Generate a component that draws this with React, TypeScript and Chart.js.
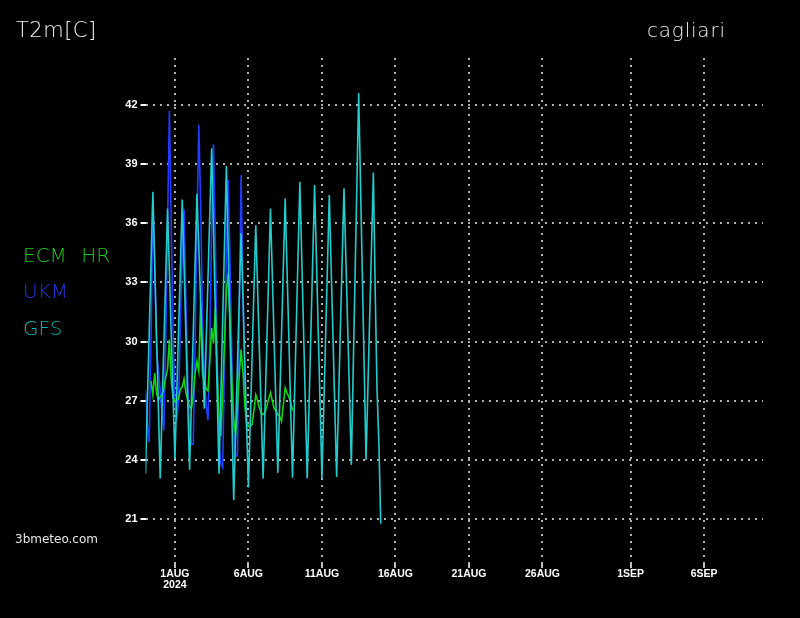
import React, { useEffect, useRef } from 'react';
import { Chart, registerables } from 'chart.js';

Chart.register(...registerables);

// ---- texts ----
const titleText = 'T2m[C]';
const cityText = 'cagliari';
const siteText = '3bmeteo.com';
const seriesNames = ['ECM HR', 'UKM', 'GFS'];
const seriesColors = ['#12d412', '#1f3cff', '#22cccc'];
const legendColors = ['#14cc14', '#2536e0', '#14b4b4'];

// ---- axes (x in hours since 1 Aug 2024 00:00) ----
const xMinHour = -48;
const xMaxHour = 960;
const xTickHours = [0, 120, 240, 360, 480, 600, 744, 864];
const xTickLabels = ['1AUG', '6AUG', '11AUG', '16AUG', '21AUG', '26AUG', '1SEP', '6SEP'];
const yearLabel = '2024';
const yTicks = [21, 24, 27, 30, 33, 36, 39, 42];
const yMin = 18.77;
const yMax = 44.38;

// ---- series (3-hourly) ----
const stepHours = 3;
const gfsStartHour = -48;
const gfsValues = [
  23.3, 26.9, 30.4, 34.0, 37.6, 34.0, 30.3, 26.7,
  23.05, 26.5, 29.9, 33.3, 36.75, 33.6, 30.4, 27.2,
  24.05, 27.3, 30.6, 33.9, 37.2, 33.8, 30.3, 26.9,
  23.5, 27.0, 30.5, 34.0, 37.5, 34.8, 32.0, 29.3,
  26.6, 29.9, 33.2, 36.5, 39.8, 35.7, 31.5, 27.4,
  23.3, 27.2, 31.1, 35.0, 38.9, 34.7, 30.4, 26.2,
  21.95, 25.3, 28.7, 32.1, 35.5, 32.3, 29.0, 25.8,
  22.6, 25.9, 29.2, 32.6, 35.9, 32.7, 29.5, 26.3,
  23.05, 26.5, 29.9, 33.3, 36.75, 33.4, 30.0, 26.7,
  23.34, 26.8, 30.3, 33.8, 37.26, 33.7, 30.2, 26.6,
  23.1, 26.9, 30.6, 34.4, 38.1, 34.3, 30.6, 26.8,
  23.05, 26.8, 30.5, 34.2, 37.94, 34.2, 30.5, 26.8,
  23.05, 26.6, 30.2, 33.8, 37.43, 33.9, 30.3, 26.7,
  23.13, 26.8, 30.5, 34.1, 37.77, 34.3, 30.8, 27.3,
  23.74, 28.5, 33.2, 37.9, 42.6, 38.0, 33.3, 28.7,
  24.0, 27.6, 31.3, 34.9, 38.57, 32.5, 27.5, 24.8,
  20.76,
];

const ukmStartHour = -48;
const ukmValues = [
  27.5, 25.8, 24.9, 30.0, 37.3, 34.0, 29.5, 28.6, 27.5, 26.3,
  25.5, 30.0, 36.0, 41.7, 36.0, 30.5, 27.0, 26.0, 27.0, 31.0,
  34.5, 36.7, 32.0, 28.0, 25.5, 24.8, 24.8, 30.0, 36.0, 41.0,
  37.0, 31.5, 28.0, 26.8, 26.0, 30.0, 36.0, 40.0, 35.0, 29.0,
  24.8, 23.8, 23.6, 29.0, 34.5, 38.2, 34.0, 29.0, 25.5, 24.2,
  24.2, 31.0, 38.45, 33.0, 28.0, 25.5,
];

const ecmStartHour = -39;
const ecmValues = [
  28.0, 27.3, 28.4, 27.4, 27.0, 27.2, 27.3, 27.6, 28.2, 28.6,
  30.1, 28.0, 27.2, 26.95, 27.0, 27.1, 27.6, 27.7, 28.1, 27.4,
  27.0, 26.7, 26.6, 27.3, 28.4, 29.0, 28.5, 32.0, 28.4, 28.0,
  27.6, 27.5, 29.0, 30.7, 29.9, 31.7, 28.5, 26.0, 25.2, 27.5,
  30.0, 32.5, 33.5, 31.0, 28.0, 26.0, 25.3, 26.5, 28.3, 29.6,
  28.5, 26.8, 25.9, 25.7, 25.7, 25.8, 26.5, 27.3, 27.0, 26.6,
  26.4, 26.3, 26.4, 26.7, 27.1, 27.4, 27.0, 26.6, 26.5, 26.3,
  26.2, 25.95, 26.8, 27.65, 27.4, 27.2, 26.9, 26.5,
];

function toPoints(start: number, values: number[]) {
  return values.map((v, i) => ({ x: start + i * stepHours, y: v }));
}

const textPlugin = {
  id: 'pageTexts',
  afterDraw(chart: any) {
    const ctx = chart.ctx as CanvasRenderingContext2D;
    ctx.save();
    ctx.textAlign = 'left';
    ctx.textBaseline = 'alphabetic';
    (ctx as any).letterSpacing = '0.5px';
    ctx.font = '200 21px "DejaVu Sans"';
    ctx.fillStyle = '#f0f0f0';
    ctx.fillText(titleText, 16, 37);
    (ctx as any).letterSpacing = '0.8px';
    ctx.font = '200 20px "DejaVu Sans"';
    ctx.fillText(cityText, 647, 37);
    (ctx as any).letterSpacing = '0px';
    const baselines = [262, 298, 334.5];
    seriesNames.forEach((name, i) => {
      ctx.font = '200 20px "DejaVu Sans"';
      (ctx as any).wordSpacing = '8px';
      ctx.fillStyle = legendColors[i];
      ctx.fillText(name, 23, baselines[i]);
    });
    (ctx as any).wordSpacing = '0px';
    ctx.font = '12px "DejaVu Sans"';
    ctx.fillStyle = '#e6e6e6';
    ctx.fillText(siteText, 15, 542.5);
    ctx.restore();
  },
};

export default function App() {
  const ref = useRef<HTMLCanvasElement | null>(null);

  useEffect(() => {
    document.body.style.margin = '0';
    document.body.style.background = '#000';
    if (!ref.current) return;
    const gridColor = '#b2b2b2';
    const chart = new Chart(ref.current, {
      type: 'line',
      data: {
        datasets: [
          {
            label: seriesNames[2],
            data: toPoints(gfsStartHour, gfsValues),
            borderColor: seriesColors[2],
            borderWidth: 1.6,
            pointRadius: 0,
            tension: 0,
          },
          {
            label: seriesNames[0],
            data: toPoints(ecmStartHour, ecmValues),
            borderColor: seriesColors[0],
            borderWidth: 1.6,
            pointRadius: 0,
            tension: 0,
          },
          {
            label: seriesNames[1],
            data: toPoints(ukmStartHour, ukmValues),
            borderColor: seriesColors[1],
            borderWidth: 1.6,
            pointRadius: 0,
            tension: 0,
          },
        ],
      },
      options: {
        animation: false,
        responsive: false,
        maintainAspectRatio: false,
        events: [],
        layout: { padding: { left: 0, right: 37, top: 58, bottom: 0 } },
        plugins: {
          legend: { display: false },
          title: { display: false },
          tooltip: { enabled: false },
        },
        scales: {
          x: {
            type: 'linear',
            min: xMinHour,
            max: xMaxHour,
            afterFit: (scale: any) => {
              scale.height = 55;
            },
            afterBuildTicks: (scale: any) => {
              scale.ticks = xTickHours.map((v) => ({ value: v }));
            },
            ticks: {
              autoSkip: false,
              maxRotation: 0,
              minRotation: 0,
              padding: 0,
              color: '#ffffff',
              font: { family: '"Liberation Sans", Arial, sans-serif', size: 10.5, weight: 'bold', lineHeight: 1.1 },
              callback: (_v: any, i: number) => (i === 0 ? [xTickLabels[0], yearLabel] : xTickLabels[i]),
            },
            grid: {
              color: gridColor,
              lineWidth: 2,
              tickLength: 5,
              tickColor: '#ffffff',
              tickWidth: 1.5,
              tickBorderDash: [],
            },
            border: { display: false, dash: [2, 5] },
          },
          y: {
            type: 'linear',
            min: yMin,
            max: yMax,
            afterFit: (scale: any) => {
              scale.width = 145.5;
            },
            afterBuildTicks: (scale: any) => {
              scale.ticks = yTicks.map((v) => ({ value: v }));
            },
            ticks: {
              padding: 3,
              color: '#ffffff',
              font: { family: '"Liberation Sans", Arial, sans-serif', size: 11, weight: 'bold' },
            },
            grid: {
              color: gridColor,
              lineWidth: 2,
              tickLength: 5,
              tickColor: '#ffffff',
              tickWidth: 2,
              tickBorderDash: [],
            },
            border: { display: false, dash: [2, 5] },
          },
        },
      },
      plugins: [textPlugin],
    } as any);
    return () => chart.destroy();
  }, []);

  return (
    <div style={{ width: 800, height: 618, background: '#000', position: 'relative' }}>
      <canvas ref={ref} width={800} height={618} style={{ display: 'block', width: 800, height: 618 }} />
    </div>
  );
}
